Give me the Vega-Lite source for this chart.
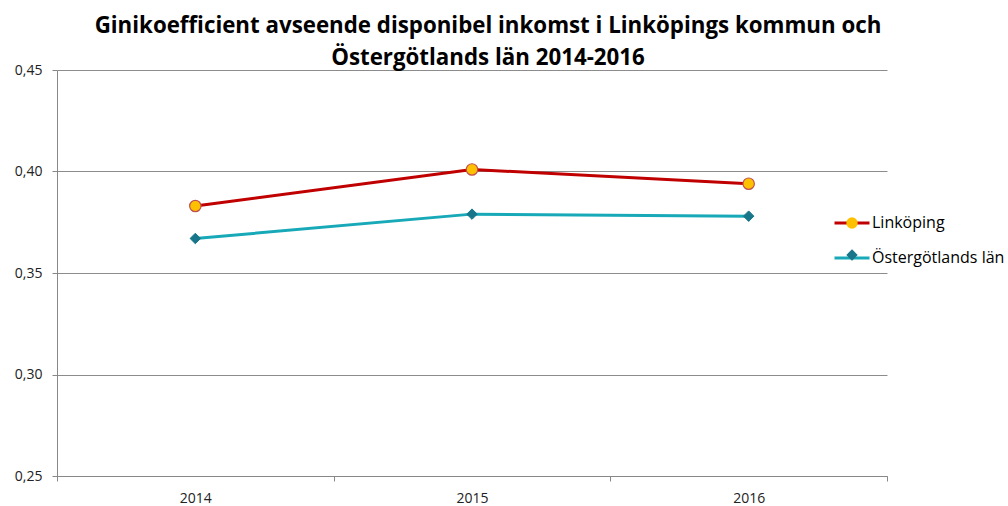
{
  "$schema": "https://vega.github.io/schema/vega-lite/v6.json",
  "width": 830,
  "height": 406,
  "autosize": {"type": "none"},
  "padding": {"left": 57, "top": 70, "right": 121, "bottom": 30},
  "background": "white",
  "title": {
    "text": ["Ginikoefficient avseende disponibel inkomst i Linköpings kommun och", "Östergötlands län 2014-2016"],
    "font": "Open Sans",
    "fontSize": 22.3,
    "fontWeight": "bold",
    "color": "#000000",
    "anchor": "middle",
    "frame": "group",
    "dx": 16,
    "offset": -6,
    "lineHeight": 32
  },
  "data": {
    "values": [
      {"year": "2014", "series": "Linköping", "value": 0.383},
      {"year": "2015", "series": "Linköping", "value": 0.401},
      {"year": "2016", "series": "Linköping", "value": 0.394},
      {"year": "2014", "series": "Östergötlands län", "value": 0.367},
      {"year": "2015", "series": "Östergötlands län", "value": 0.379},
      {"year": "2016", "series": "Östergötlands län", "value": 0.378}
    ]
  },
  "config": {
    "view": {"stroke": null},
    "font": "Open Sans"
  },
  "encoding": {
    "x": {
      "field": "year", "type": "ordinal",
      "scale": {"type": "band", "paddingInner": 0, "paddingOuter": 0},
      "axis": {
        "title": null, "labelAngle": 0, "tickBand": "extent",
        "domainColor": "#888888", "tickColor": "#888888", "tickSize": 5,
        "labelFontSize": 14, "labelColor": "#222222", "labelPadding": 10, "grid": false
      }
    },
    "y": {
      "field": "value", "type": "quantitative",
      "scale": {"domain": [0.25, 0.45], "nice": false, "zero": false},
      "axis": {
        "title": null, "values": [0.25, 0.3, 0.35, 0.4, 0.45],
        "labelExpr": "replace(format(datum.value, '.2f'), '.', ',')",
        "grid": true, "gridColor": "#8c8c8c", "domainColor": "#888888",
        "tickColor": "#888888", "tickSize": 5, "labelFontSize": 14,
        "labelColor": "#222222", "labelPadding": 10
      }
    }
  },
  "layer": [
    {
      "mark": {"type": "line", "strokeWidth": 3},
      "encoding": {
        "stroke": {
          "field": "series", "type": "nominal",
          "scale": {"domain": ["Linköping", "Östergötlands län"], "range": ["#C00000", "#17A9B8"]},
          "legend": {
            "title": null, "orient": "none", "legendX": 776, "legendY": 134,
            "labelFontSize": 16, "labelColor": "#000000", "symbolType": "stroke",
            "symbolSize": 1225, "symbolStrokeWidth": 3, "rowPadding": 8, "labelOffset": 1,
            "labelLimit": 200
          }
        }
      }
    },
    {
      "transform": [{"filter": "datum.series === 'Linköping'"}],
      "mark": {"type": "point", "filled": true, "size": 130, "opacity": 1, "stroke": "#C0504D", "strokeWidth": 1.2},
      "encoding": {
        "shape": {
          "field": "series", "type": "nominal",
          "scale": {"range": ["circle", "diamond"]},
          "legend": {
            "title": null, "orient": "none", "legendX": 788, "legendY": 146,
            "labelFontSize": 14, "labelExpr": "' '", "symbolSize": 130,
            "symbolStrokeWidth": 0, "rowPadding": 18, "labelOffset": 1, "symbolOpacity": 1
          }
        },
        "fill": {
          "field": "series", "type": "nominal",
          "scale": {"range": ["#FFC000", "#17768A"]},
          "legend": {
            "title": null, "orient": "none", "legendX": 788, "legendY": 146,
            "labelFontSize": 14, "labelExpr": "' '", "symbolSize": 130,
            "symbolStrokeWidth": 0, "rowPadding": 18, "labelOffset": 1, "symbolOpacity": 1
          }
        }
      }
    },
    {
      "transform": [{"filter": "datum.series !== 'Linköping'"}],
      "mark": {"type": "point", "filled": true, "size": 110, "opacity": 1, "stroke": "#17768A", "strokeWidth": 1},
      "encoding": {
        "shape": {
          "field": "series", "type": "nominal",
          "scale": {"range": ["circle", "diamond"]},
          "legend": {
            "title": null, "orient": "none", "legendX": 788, "legendY": 146,
            "labelFontSize": 14, "labelExpr": "' '", "symbolSize": 130,
            "symbolStrokeWidth": 0, "rowPadding": 18, "labelOffset": 1, "symbolOpacity": 1
          }
        },
        "fill": {
          "field": "series", "type": "nominal",
          "scale": {"range": ["#FFC000", "#17768A"]},
          "legend": {
            "title": null, "orient": "none", "legendX": 788, "legendY": 146,
            "labelFontSize": 14, "labelExpr": "' '", "symbolSize": 130,
            "symbolStrokeWidth": 0, "rowPadding": 18, "labelOffset": 1, "symbolOpacity": 1
          }
        }
      }
    }
  ]
}
